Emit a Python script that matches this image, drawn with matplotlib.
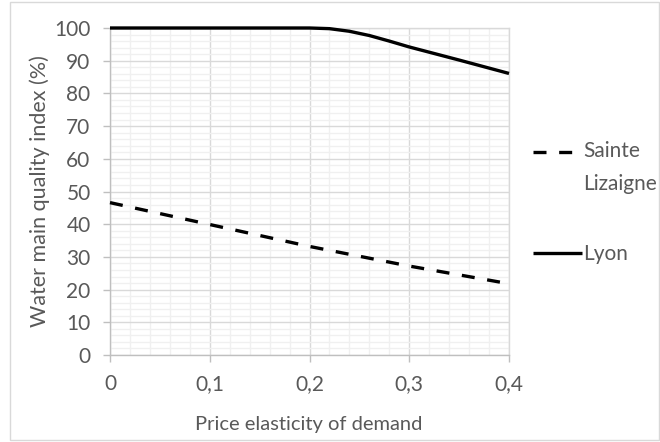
"""Water main quality index versus price elasticity of demand (Excel-style line chart)."""

import matplotlib

matplotlib.use("Agg")

import matplotlib.pyplot as plt
from matplotlib.legend_handler import HandlerLine2D
from matplotlib.patches import Rectangle
from matplotlib.ticker import MultipleLocator

TEXT = "#595959"
AXIS = "#bfbfbf"
MAJOR_GRID = "#d9d9d9"
MINOR_GRID = "#f0f0f0"

plt.rcParams["font.family"] = ["Lato", "DejaVu Sans"]

# Values
lyon_x = [0, 0.05, 0.1, 0.15, 0.2, 0.22, 0.24, 0.26, 0.28, 0.3, 0.35, 0.4]
lyon_y = [100, 100, 100, 100, 100, 99.8, 99.0, 97.7, 96.0, 94.2, 90.2, 86.1]

sainte_x = [0, 0.1, 0.2, 0.3, 0.4]
sainte_y = [46.6, 39.9, 33.2, 27.2, 21.8]

x_ticks = [0, 0.1, 0.2, 0.3, 0.4]
x_tick_labels = ["0", "0,1", "0,2", "0,3", "0,4"]
y_ticks = [0, 10, 20, 30, 40, 50, 60, 70, 80, 90, 100]


class RaisedLine(HandlerLine2D):
    """Legend line aligned with the first line of a two-line label, as Excel does."""

    def __init__(self, raise_pt, **kwargs):
        super().__init__(**kwargs)
        self.raise_pt = raise_pt

    def create_artists(self, legend, orig_handle, xdescent, ydescent, width,
                       height, fontsize, trans):
        return super().create_artists(legend, orig_handle, xdescent,
                                      ydescent - self.raise_pt, width, height,
                                      fontsize, trans)


fig = plt.figure(figsize=(6.6, 4.42), dpi=100)
ax = fig.add_axes([110 / 660, 1 - 355 / 442, 399 / 660, 327 / 442])

sainte_line, = ax.plot(sainte_x, sainte_y, color="black", lw=2.4, dashes=(3.9, 3.8),
                       dash_capstyle="butt", label="Sainte\nLizaigne",
                       clip_on=False, zorder=4)
ax.plot(lyon_x, lyon_y, color="black", lw=2.4, solid_capstyle="butt",
        label="Lyon", clip_on=False, zorder=4)

ax.set_xlim(0, 0.4)
ax.set_ylim(0, 100)
ax.set_xticks(x_ticks)
ax.set_xticklabels(x_tick_labels)
ax.set_yticks(y_ticks)
ax.xaxis.set_minor_locator(MultipleLocator(0.02))
ax.yaxis.set_minor_locator(MultipleLocator(2))

ax.grid(which="minor", color=MINOR_GRID, lw=1.0)
ax.grid(which="major", color=MAJOR_GRID, lw=1.0)
ax.set_axisbelow(True)

ax.tick_params(which="major", length=5, width=1, color=AXIS, labelsize=15,
               labelcolor=TEXT)
ax.tick_params(axis="y", pad=9)
ax.tick_params(axis="x", pad=9)
ax.tick_params(which="minor", length=0)

for side in ("left", "bottom"):
    ax.spines[side].set_color(AXIS)
    ax.spines[side].set_linewidth(1)
for side in ("top", "right"):
    ax.spines[side].set_color(MAJOR_GRID)
    ax.spines[side].set_linewidth(1)

ax.set_xlabel("Price elasticity of demand", fontsize=14.5, color=TEXT)
ax.set_ylabel("Water main quality index (%)", fontsize=15.5, color=TEXT)
ax.xaxis.set_label_coords(0.497, -0.186)
ax.yaxis.set_label_coords(-0.15, 0.5)

leg = fig.legend(loc="upper left", bbox_to_anchor=(533 / 660, 1 - 141 / 442),
                 frameon=False, fontsize=15, handlelength=2.36, handletextpad=0.05,
                 borderpad=0, borderaxespad=0, labelspacing=2.4, labelcolor=TEXT,
                 handler_map={sainte_line: RaisedLine(23)})
for t in leg.get_texts():
    t.set_linespacing(1.8)

fig.add_artist(Rectangle((10 / 660, 2 / 442), 649 / 660, 438 / 442,
                         transform=fig.transFigure, fill=False,
                         edgecolor=MAJOR_GRID, lw=1))

fig.savefig("out.png", dpi=100)
